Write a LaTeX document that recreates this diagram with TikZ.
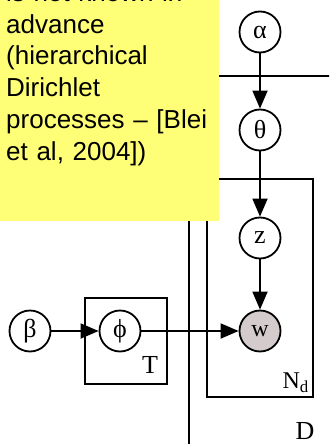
\documentclass[tikz,border=0pt]{standalone}
\usepackage{fontspec}
\setmainfont{Liberation Serif}
\newfontfamily\notefont{Liberation Sans}
\usepackage{xcolor}
\usetikzlibrary{arrows.meta}
\definecolor{noteyellow}{RGB}{255,255,119}
\definecolor{obsgray}{RGB}{212,204,204}
\tikzset{
  var/.style={circle,draw,line width=1.8pt,minimum size=41pt,inner sep=0pt,font=\fontsize{26}{26}\selectfont},
  obs/.style={var,fill=obsgray},
  dep/.style={line width=1.8pt,-{Triangle[length=18pt,width=15pt]}},
  plate/.style={line width=1.8pt},
  plab/.style={inner sep=0pt,font=\fontsize{26}{26}\selectfont}
}

\begin{document}
\begin{tikzpicture}[x=1pt,y=-1pt]
\useasboundingbox (0,0) rectangle (329,444);
\clip (0,0) rectangle (329,444);
\draw[plate] (189,460) -- (189,76) -- (350,76);
\draw[plate] (207,179) rectangle (313,397);
\draw[plate] (85,298) rectangle (167,384);
\fill[noteyellow] (0,-10) rectangle (219,221);
\node[anchor=base west,inner sep=0pt,text width=212pt,align=left,font=\notefont\fontsize{26}{31.7}\selectfont] (note) at (6,1.6)
  {is not known in\\advance\\(hierarchical\\Dirichlet\\processes – [Blei\\et al, 2004])};
\node[var] (alpha) at (260,32) {α};
\node[var] (theta) at (260,130) {θ};
\node[var] (z) at (260,238) {z};
\node[obs,font=\fontsize{24}{24}\selectfont] (w) at (260,331) {w};
\node[var] (beta) at (30,331) {β};
\node[var] (phi) at (120,331) {\symbol{"03D5}};
\node[plab] (T) at (150,365) {T};
\node[plab,anchor=east,font=\fontsize{24}{24}\selectfont] (Nd) at (309,383) {N\textsubscript{d}};
\node[plab] (D) at (305,431) {D};
\draw[dep] (alpha) -- (theta);
\draw[dep] (theta) -- (z);
\draw[dep] (z) -- (w);
\draw[dep] (beta) -- (phi);
\draw[dep] (phi) -- (w);
\end{tikzpicture}
\end{document}
